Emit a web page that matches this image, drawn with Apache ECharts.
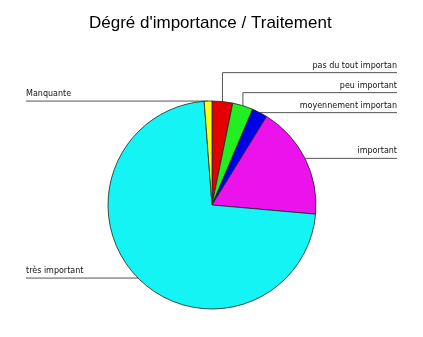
<!DOCTYPE html>
<html>
<head>
<meta charset="utf-8">
<script src="https://cdn.jsdelivr.net/npm/echarts@6/dist/echarts.min.js"></script>
<style>html,body{margin:0;padding:0;background:#fff}#c{width:423px;height:337px}</style>
</head>
<body>
<div id="c"></div>
<script>
const categories = ['pas du tout importan', 'peu important', 'moyennement importan', 'important', 'très important', 'Manquante'];
const values = [8, 8, 6, 44, 181, 3];
const sliceColors = ['#e40000', '#22ee22', '#0000e6', '#ec12ec', '#14f4f4', '#ffff10'];

const CX = 212, CY = 205, R = 104;
const RIGHT_X = 397, LEFT_X = 26, GAP = 20;

// geometry of each slice's mid-point on the rim (start at top, clockwise)
const total = values.reduce((a, b) => a + b, 0);
const geo = [];
let cum = 0;
values.forEach((v, i) => {
  const mid = 2 * Math.PI * (cum + v / 2) / total;
  cum += v;
  geo.push({ x: CX + R * Math.sin(mid), y: CY - R * Math.cos(mid), right: Math.sin(mid) > 0 });
});
// stack right-side label lines upward so they do not overlap
const lineY = geo.map(g => g.y);
const rightIdx = geo.map((g, i) => i).filter(i => geo[i].right).sort((a, b) => geo[b].y - geo[a].y);
for (let k = 1; k < rightIdx.length; k++) {
  const i = rightIdx[k], prev = rightIdx[k - 1];
  lineY[i] = Math.min(geo[i].y, lineY[prev] - GAP);
}

const chart = echarts.init(document.getElementById('c'), null, { renderer: 'canvas' });
chart.setOption({
  animation: false,
  title: {
    text: "Dégré d'importance / Traitement",
    left: 84,
    top: 10,
    textStyle: { fontFamily: 'Liberation Sans', fontSize: 17, fontWeight: 'normal', color: '#000' }
  },
  series: [{
    type: 'pie',
    center: [CX, CY],
    radius: R,
    startAngle: 90,
    clockwise: true,
    avoidLabelOverlap: false,
    itemStyle: { borderColor: '#222', borderWidth: 0.8 },
    label: {
      show: true,
      position: 'outside',
      fontFamily: 'DejaVu Sans',
      fontSize: 8,
      color: '#111',
      lineHeight: 10
    },
    labelLine: { show: true, smooth: false, lineStyle: { color: '#555', width: 1 } },
    labelLayout: function (p) {
      const i = p.dataIndex, g = geo[i], ly = lineY[i];
      const endX = g.right ? RIGHT_X : LEFT_X;
      return {
        x: endX,
        y: ly - 2,
        align: g.right ? 'right' : 'left',
        verticalAlign: 'bottom',
        labelLinePoints: [[g.x, g.y], [g.x, ly], [endX, ly]]
      };
    },
    emphasis: { disabled: true },
    data: categories.map((n, i) => ({ name: n, value: values[i], itemStyle: { color: sliceColors[i] } }))
  }]
});
</script>
</body>
</html>
